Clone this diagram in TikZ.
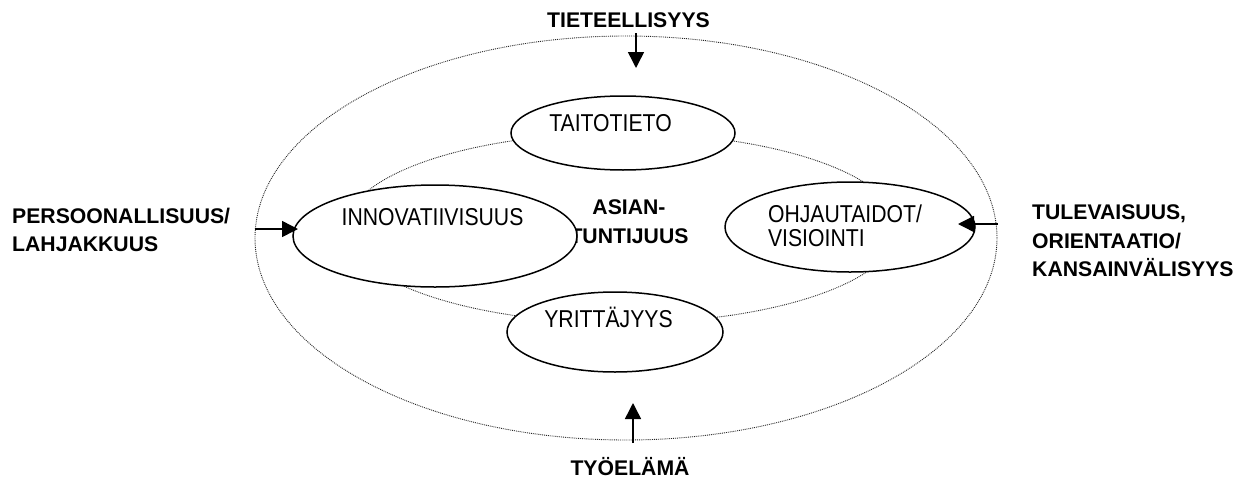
\documentclass[tikz,border=0pt]{standalone}
\usepackage{fontspec}
\setmainfont{Liberation Sans}
\usetikzlibrary{shapes.geometric,arrows.meta,positioning}

\newcommand{\tall}[1]{\scalebox{1}[1.15]{#1}}

\begin{document}
\begin{tikzpicture}[x=1pt, y=-1pt,
    every node/.style={font=\fontsize{21.2}{28.5}\selectfont, inner sep=0pt},
    ring/.style={ellipse, draw=black!85, densely dotted, line width=0.9pt, minimum width=#1},
    area/.style={ellipse, draw, fill=white, line width=1.5pt},
    force/.style={font=\fontsize{21.2}{28.5}\selectfont\bfseries, align=left},
    push/.style={line width=1.5pt, -{Triangle[length=16pt, width=16pt]}}
]
\useasboundingbox (0,0) rectangle (1245,477);

% Outer and inner rings
\node[ring=742pt, minimum height=404pt] (outer) at (626,238) {};
\node[ring=552pt, minimum height=190pt] (inner) at (622,228) {};

% Centre text
\node[force, align=center] (core) at (629,221.5) {ASIAN-\\TUNTIJUUS};

% Competence areas
\node[area, minimum width=224pt, minimum height=74pt,
      label={[xshift=-12.5pt, yshift=9.5pt]center:\tall{TAITOTIETO}}] (taito) at (623,133) {};
\node[area, minimum width=284pt, minimum height=102pt,
      label={[xshift=-2.5pt, yshift=19pt]center:\tall{INNOVATIIVISUUS}}] (innov) at (435,236) {};
\node[area, minimum width=250pt, minimum height=90pt,
      label={[xshift=-5pt, yshift=1pt, align=left, font=\fontsize{21.2}{24.5}\selectfont]center:\tall{OHJAUTAIDOT/}\\\tall{VISIOINTI}}] (ohja) at (850,227) {};
\node[area, minimum width=216pt, minimum height=80pt,
      label={[xshift=-6.5pt, yshift=14.5pt]center:\tall{YRITTÄJYYS}}] (yrit) at (615,332) {};

% Outside forces
\node[force, anchor=base] (tiet) at (628.5,27) {TIETEELLISYYS};
\node[force, anchor=base] (tyo) at (630,475) {TYÖELÄMÄ};
\node[force, anchor=west] (pers) at (12,230) {PERSOONALLISUUS/\\LAHJAKKUUS};
\node[force, anchor=west] (tule) at (1032,241) {TULEVAISUUS,\\ORIENTAATIO/\\KANSAINVÄLISYYS};

% Arrows
\coordinate (tietA) at (636,33);
\coordinate (tietB) at (636,68);
\coordinate (tyoA) at (633,443);
\coordinate (tyoB) at (633,403);
\coordinate (persA) at (255,229);
\coordinate (persB) at (298,229);
\coordinate (tuleA) at (998,224);
\coordinate (tuleB) at (958,224);
\draw[push] (tietA) -- (tietB);
\draw[push] (tyoA) -- (tyoB);
\draw[push] (persA) -- (persB);
\draw[push] (tuleA) -- (tuleB);

\end{tikzpicture}
\end{document}
